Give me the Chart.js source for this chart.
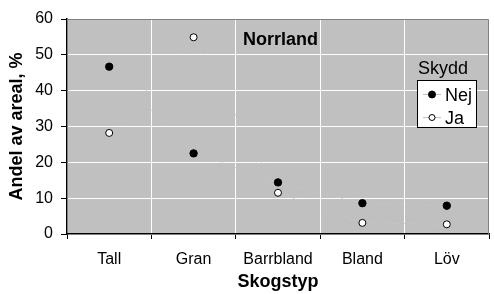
<!DOCTYPE html>
<html>
<head>
<meta charset="utf-8">
<script src="https://cdn.jsdelivr.net/npm/chart.js@4/dist/chart.umd.min.js"></script>
<style>
html,body{margin:0;padding:0;background:#fff;}
#wrap{width:494px;height:294px;position:relative;}
</style>
</head>
<body>
<div id="wrap"><canvas id="c" width="494" height="294"></canvas></div>
<script>
const categories = ["Tall", "Gran", "Barrbland", "Bland", "Löv"];
const nejValues = [46.7, 22.5, 14.4, 8.6, 7.9];
const jaValues = [28.2, 54.9, 11.5, 3.1, 2.7];
const seriesLabels = ["Nej", "Ja"];
const legendTitle = "Skydd";
const chartTitle = "Norrland";
const xTitle = "Skogstyp";
const yTitle = "Andel av areal, %";

const FONT = "'Liberation Sans', Arial, sans-serif";

const decor = {
  id: 'decor',
  beforeDraw(chart) {
    const {ctx, chartArea: a} = chart;
    ctx.save();
    ctx.fillStyle = '#C0C0C0';
    ctx.fillRect(a.left, a.top, a.right - a.left, a.bottom - a.top);
    ctx.restore();
  },
  afterDraw(chart) {
    const {ctx, chartArea: a} = chart;
    ctx.save();
    ctx.strokeStyle = '#808080';
    ctx.lineWidth = 1;
    ctx.beginPath();
    ctx.moveTo(a.left, a.top + 0.5);
    ctx.lineTo(a.right - 0.5, a.top + 0.5);
    ctx.lineTo(a.right - 0.5, a.bottom);
    ctx.stroke();
    ctx.fillStyle = '#000';
    ctx.font = "bold 18px " + FONT;
    ctx.textBaseline = 'alphabetic';
    ctx.textAlign = 'left';
    ctx.fillText(chartTitle, 243, 45);
    ctx.font = "18px " + FONT;
    ctx.fillText(legendTitle, 418, 74);
    const bx = 417.5, by = 80.5, bw = 59, bh = 47;
    ctx.fillStyle = '#fff';
    ctx.fillRect(bx, by, bw, bh);
    ctx.strokeStyle = '#000';
    ctx.strokeRect(bx, by, bw, bh);
    const rows = [
      {y: 94, fill: '#000', label: seriesLabels[0]},
      {y: 117, fill: '#fff', label: seriesLabels[1]}
    ];
    rows.forEach(r => {
      ctx.strokeStyle = '#C0C0C0';
      ctx.lineWidth = 1;
      ctx.beginPath();
      ctx.moveTo(423, r.y + 0.5);
      ctx.lineTo(441, r.y + 0.5);
      ctx.stroke();
      ctx.beginPath();
      ctx.arc(432, r.y + 0.5, r.fill === '#000' ? 3.5 : 3, 0, Math.PI * 2);
      ctx.fillStyle = r.fill;
      ctx.fill();
      ctx.strokeStyle = '#000';
      ctx.stroke();
      ctx.fillStyle = '#000';
      ctx.font = "18px " + FONT;
      ctx.textBaseline = 'alphabetic';
      ctx.fillText(r.label, 445, r.y + 7);
    });
    ctx.restore();
  }
};

new Chart(document.getElementById('c'), {
  type: 'line',
  data: {
    labels: categories,
    datasets: [
      {
        label: seriesLabels[0],
        data: nejValues,
        borderColor: '#C8C8C8',
        borderWidth: 1,
        borderDash: [2, 3],
        pointRadius: 3.7,
        pointBackgroundColor: '#000',
        pointBorderColor: '#000',
        pointBorderWidth: 1
      },
      {
        label: seriesLabels[1],
        data: jaValues,
        borderColor: '#C8C8C8',
        borderWidth: 1,
        borderDash: [2, 3],
        pointRadius: 3.5,
        pointBackgroundColor: '#fff',
        pointBorderColor: '#000',
        pointBorderWidth: 1
      }
    ]
  },
  options: {
    responsive: false,
    animation: false,
    layout: {padding: {top: 19, right: 2, left: 0, bottom: 0}},
    plugins: {
      legend: {display: false},
      tooltip: {enabled: false}
    },
    scales: {
      x: {
        offset: true,
        grid: {
          offset: true,
          color: '#fff',
          lineWidth: 1,
          tickColor: '#000',
          tickLength: 5,
          drawTicks: true
        },
        border: {color: '#000', width: 1.5},
        ticks: {color: '#000', font: {family: FONT, size: 16}, padding: 11, maxRotation: 0},
        title: {display: true, text: xTitle, color: '#000', font: {family: FONT, size: 18, weight: 'bold'}, padding: {top: 0, bottom: 1}},
        afterFit(s) { s.height = 60; }
      },
      y: {
        min: 0, max: 60,
        ticks: {stepSize: 10, color: '#000', font: {family: FONT, size: 16}, padding: 8},
        grid: {color: '#fff', lineWidth: 1, tickColor: '#000', tickLength: 6},
        border: {color: '#000', width: 1.5},
        title: {display: true, text: yTitle, color: '#000', font: {family: FONT, size: 18, weight: 'bold'}, padding: {top: 6, bottom: 0}},
        afterFit(s) { s.width = 67; }
      }
    }
  },
  plugins: [decor]
});
</script>
</body>
</html>
